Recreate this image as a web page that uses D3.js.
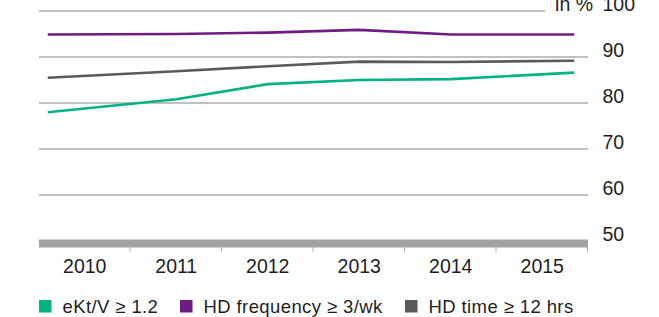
<!DOCTYPE html>
<html>
<head>
<meta charset="utf-8">
<script src="https://cdn.jsdelivr.net/npm/d3@7/dist/d3.min.js"></script>
<style>
  body { margin: 0; background: #fff; }
  svg text { font-family: "Liberation Sans", Arial, sans-serif; fill: #1e1e1e; }
</style>
</head>
<body>
<svg id="chart" width="659" height="317"></svg>
<script>
// data
var years      = [2010, 2011, 2012, 2013, 2014, 2015];
var ektv       = [78.0, 80.8, 84.1, 85.0, 85.2, 86.6];
var hdFreq     = [94.9, 95.0, 95.3, 95.9, 94.9, 94.9];
var hdTime     = [85.5, 86.9, 88.0, 89.0, 88.9, 89.2];
var yTicks     = [50, 60, 70, 80, 90, 100];
var seriesNames  = ["eKt/V \u2265 1.2", "HD frequency \u2265 3/wk", "HD time \u2265 12 hrs"];
var seriesColors = ["#00b382", "#6e1e82", "#5a5a5a"];

var series = [ektv, hdFreq, hdTime].map(function(v, i) {
    return { name: seriesNames[i], color: seriesColors[i], values: v };
});

var svg = d3.select("#chart");

// scales
var x = d3.scaleBand()
    .domain(years)
    .range([39, 588])
    .padding(0);
var y = d3.scaleLinear()
    .domain([50, 100])
    .range([241, 11]);

// line runs past the first/last category centre
var overhangLeft  = 37;
var overhangRight = 32;
var xLine = d3.scaleLinear()
    .domain(years)
    .range(years.map(function(d, i) {
        var c = x(d) + x.bandwidth()/2;
        if (i == 0) return c - overhangLeft;
        if (i == years.length-1) return c + overhangRight;
        return c;
    }));

// gridlines
svg.append("g")
    .selectAll("line")
    .data(yTicks.filter(function(d) { return d > 50; }))
    .enter().append("line")
        .attr("x1", 39)
        .attr("x2", function(d) { return d == 100 ? 545 : 588; })
        .attr("y1", function(d) { return y(d); })
        .attr("y2", function(d) { return y(d); })
        .attr("stroke", "#acacac")
        .attr("stroke-width", 1.3);

// thick base band
svg.append("rect")
    .attr("x", 39)
    .attr("y", y(50) - 1.5)
    .attr("width", 549)
    .attr("height", 8)
    .attr("fill", "#a3a3a3");

// category ticks
svg.append("g")
    .selectAll("line")
    .data(years)
    .enter().append("line")
        .attr("x1", function(d) { return x(d) + x.bandwidth() - 0.5; })
        .attr("x2", function(d) { return x(d) + x.bandwidth() - 0.5; })
        .attr("y1", y(50) + 6)
        .attr("y2", y(50) + 11)
        .attr("stroke", "#b0b0b0")
        .attr("stroke-width", 1);

// year labels
svg.append("g")
    .selectAll("text")
    .data(years)
    .enter().append("text")
        .attr("x", function(d) { return x(d) + x.bandwidth()/2; })
        .attr("y", 272.5)
        .attr("text-anchor", "middle")
        .style("font-size", "19.5px")
        .text(function(d) { return d; });

// y labels on the right
svg.append("g")
    .selectAll("text")
    .data(yTicks)
    .enter().append("text")
        .attr("x", 602.5)
        .attr("y", function(d) { return y(d); })
        .style("font-size", "19.5px")
        .text(function(d) { return d; });

svg.append("text")
    .attr("x", 593)
    .attr("y", y(100))
    .attr("text-anchor", "end")
    .style("font-size", "19.5px")
    .text("in %");

// lines
var line = d3.line()
    .x(function(d, i) { return xLine(years[i]); })
    .y(function(d) { return y(d); });

svg.append("g")
    .selectAll("path")
    .data(series)
    .enter().append("path")
        .attr("d", function(d) { return line(d.values); })
        .attr("fill", "none")
        .attr("stroke", function(d) { return d.color; })
        .attr("stroke-width", 2.6);

// legend
var legendX = [39, 180, 405];
var legend = svg.append("g")
    .selectAll("g")
    .data(series)
    .enter().append("g")
        .attr("transform", function(d, i) { return "translate(" + legendX[i] + ",300)"; });
legend.append("rect")
    .attr("width", 12.5)
    .attr("height", 12.5)
    .attr("fill", function(d) { return d.color; });
legend.append("text")
    .attr("x", 23.5)
    .attr("y", 12.7)
    .style("font-size", "18.5px")
    .style("letter-spacing", "0.4px")
    .text(function(d) { return d.name; });
</script>
</body>
</html>
